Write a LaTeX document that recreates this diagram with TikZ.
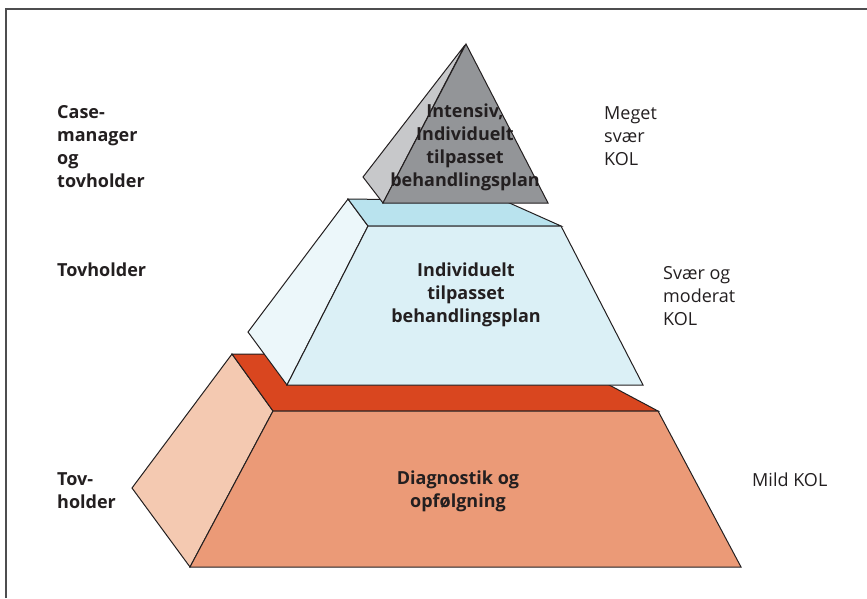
\documentclass[tikz,border=0pt]{standalone}
\usepackage{fontspec}
\setmainfont{Open Sans}
\begin{document}
\begin{tikzpicture}[x=1pt,y=-1pt,
  edge/.style={draw=ink,line width=1pt,line join=miter},
  lbl/.style={inner sep=0pt,text=ink,font=\fontsize{18}{23}\selectfont},
  blbl/.style={lbl,font=\fontsize{18}{23}\selectfont\bfseries},
]
\definecolor{ink}{HTML}{231F20}
\definecolor{frame}{HTML}{4D4D4F}
\definecolor{peachside}{HTML}{F4C9B1}
\definecolor{redtop}{HTML}{D9461F}
\definecolor{orangefront}{HTML}{EB9A77}
\definecolor{blueside}{HTML}{ECF7FA}
\definecolor{bluetop}{HTML}{B9E3EE}
\definecolor{bluefront}{HTML}{DBF0F6}
\definecolor{greyside}{HTML}{C7C8CA}
\definecolor{greyfront}{HTML}{939598}

\useasboundingbox (0,0) rectangle (867,598);

% frame
\draw[frame,line width=1.3pt] (6,598) -- (6,9) -- (867,9);

% bottom tier
\path[edge,fill=peachside] (232,354) -- (273,411) -- (190,567) -- (132,488) -- cycle;
\path[edge,fill=redtop] (232,354) -- (551,354) -- (658,411) -- (273,411) -- cycle;
\path[edge,fill=orangefront] (273,411) -- (658,411) -- (741,567) -- (190,567) -- cycle;

% middle tier
\path[edge,fill=blueside] (348,199) -- (368,226) -- (287,385) -- (248,332) -- cycle;
\path[edge,fill=bluetop] (348,199) -- (505,201) -- (561,226) -- (368,226) -- cycle;
\path[edge,fill=bluefront] (368,226) -- (561,226) -- (643,385) -- (287,385) -- cycle;

% top pyramid
\path[edge,fill=greyside] (465,45) -- (363,177) -- (383,203) -- cycle;
\path[edge,fill=greyfront] (466,44) -- (548,203) -- (383,203) -- cycle;

% tier labels
\node[blbl,align=center] (top) at (465,147) {Intensiv,\\Individuelt\\tilpasset\\behandlingsplan};
\node[blbl,align=center] (mid) at (466,295) {Individuelt\\tilpasset\\behandlingsplan};
\node[blbl,align=center] (base) at (458,491) {Diagnostik og\\opfølgning};

% roles
\node[blbl,align=left,anchor=west] (roleA) at (57,147) {Case-\\manager\\og\\tovholder};
\node[blbl,anchor=west] (roleB) at (57,270) {Tovholder};
\node[blbl,align=left,anchor=west] (roleC) at (57,491) {Tov-\\holder};

% severity
\node[lbl,align=left,anchor=west] (sevA) at (604,136) {Meget\\svær\\KOL};
\node[lbl,align=left,anchor=west] (sevB) at (663,296) {Svær og\\moderat\\KOL};
\node[lbl,anchor=west] (sevC) at (752,480) {Mild KOL};
\end{tikzpicture}
\end{document}
